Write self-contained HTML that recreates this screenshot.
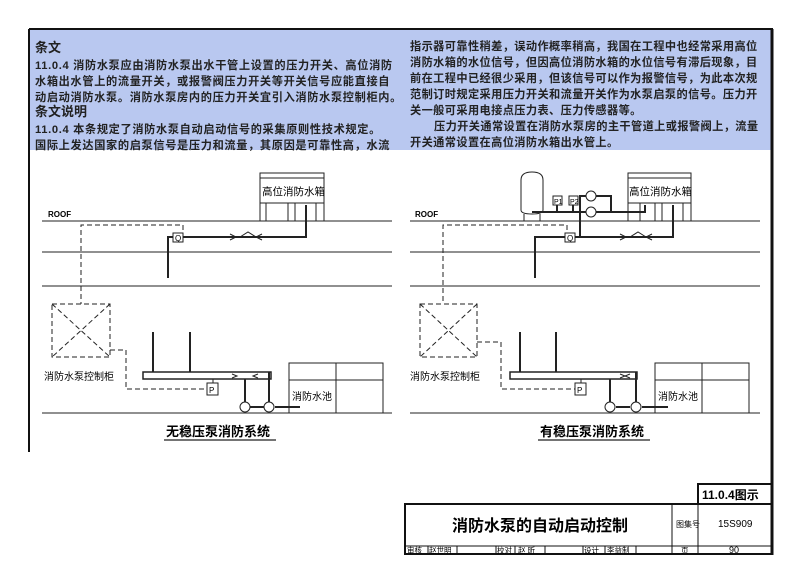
<!DOCTYPE html>
<html><head><meta charset="utf-8"><style>
body{margin:0;background:#fff;width:800px;height:579px;overflow:hidden}
svg{position:absolute;left:0;top:0}
text{font-family:"Liberation Sans","Noto Sans CJK SC",sans-serif}
.t{font-family:"Liberation Sans","Noto Sans CJK SC",sans-serif;font-size:11.2px;font-weight:bold;fill:#222}
.l{letter-spacing:0.65px}
.r{letter-spacing:0.4px}
</style></head><body>
<svg width="800" height="579" viewBox="0 0 800 579">
<rect x="0" y="0" width="800" height="579" fill="#fff"/>
<rect x="29" y="30" width="743" height="120" fill="#b9c8f0"/>
<line x1="29" y1="29" x2="773" y2="29" stroke="#111" stroke-width="2"/>
<line x1="29" y1="29" x2="29" y2="452" stroke="#111" stroke-width="2"/>
<line x1="772" y1="29" x2="772" y2="555" stroke="#111" stroke-width="3"/>
<g class="t">
<text x="35" y="52" style="font-size:13px">条文</text>
<text class="l" x="35" y="69">11.0.4 消防水泵应由消防水泵出水干管上设置的压力开关、高位消防</text>
<text class="l" x="35" y="85">水箱出水管上的流量开关，或报警阀压力开关等开关信号应能直接自</text>
<text class="l" x="35" y="101">动启动消防水泵。消防水泵房内的压力开关宜引入消防水泵控制柜内。</text>
<text x="35" y="116" style="font-size:13px">条文说明</text>
<text class="l" x="35" y="133">11.0.4 本条规定了消防水泵自动启动信号的采集原则性技术规定。</text>
<text class="l" x="35" y="149">国际上发达国家的启泵信号是压力和流量，其原因是可靠性高，水流</text>
<text class="r" x="410" y="50">指示器可靠性稍差，误动作概率稍高，我国在工程中也经常采用高位</text>
<text class="r" x="410" y="66">消防水箱的水位信号，但因高位消防水箱的水位信号有滞后现象，目</text>
<text class="r" x="410" y="82">前在工程中已经很少采用，但该信号可以作为报警信号，为此本次规</text>
<text class="r" x="410" y="98">范制订时规定采用压力开关和流量开关作为水泵启泵的信号。压力开</text>
<text class="r" x="410" y="114">关一般可采用电接点压力表、压力传感器等。</text>
<text class="r" x="434" y="130">压力开关通常设置在消防水泵房的主干管道上或报警阀上，流量</text>
<text class="r" x="410" y="146">开关通常设置在高位消防水箱出水管上。</text>
</g>

<!-- LEFT diagram -->
<g stroke="#222" fill="none" stroke-width="1">
<line x1="42" y1="221" x2="392" y2="221"/><line x1="42" y1="252" x2="392" y2="252"/>
<line x1="42" y1="286" x2="392" y2="286"/><line x1="42" y1="413" x2="392" y2="413"/>
<rect x="260" y="173" width="64" height="48"/><line x1="260" y1="178" x2="324" y2="178"/>
<line x1="260" y1="203" x2="324" y2="203"/><line x1="266" y1="203" x2="266" y2="221"/>
<line x1="288" y1="203" x2="288" y2="221"/><line x1="295" y1="203" x2="295" y2="221"/><line x1="316" y1="203" x2="316" y2="221"/>
<rect x="173" y="233" width="10" height="9"/>
<g stroke-width="2"><polyline points="183,237 306,237 306,205"/><polyline points="173,237 168,237 168,278"/>
<line x1="153" y1="332" x2="153" y2="372"/><line x1="190" y1="332" x2="190" y2="372"/>
<rect x="143" y="372" width="128" height="7" stroke-width="1.5"/>
<line x1="245" y1="379" x2="245" y2="402"/><line x1="269" y1="372" x2="269" y2="402"/>
<line x1="250" y1="407" x2="264" y2="407"/><line x1="275" y1="407" x2="300" y2="407"/></g>
<path d="M230,234 l6,3 l-6,3 M262,234 l-6,3 l6,3 M240,237 l8,-5 l8,5"/>
<line x1="213" y1="379" x2="213" y2="383"/><rect x="207" y="383" width="11" height="12"/>
<path d="M232,374 l5,2 l-5,2 M258,374 l-5,2 l5,2"/>
<circle cx="245" cy="407" r="5"/><circle cx="269" cy="407" r="5"/>
<g stroke-dasharray="5,3"><polyline points="183,230 183,225 81,225 81,304"/>
<rect x="52" y="304" width="58" height="53"/><line x1="52" y1="304" x2="110" y2="357"/><line x1="110" y1="304" x2="52" y2="357"/>
<polyline points="110,350 126,350 126,389 207,389"/></g>
<rect x="289" y="363" width="94" height="50"/><line x1="336" y1="363" x2="336" y2="413"/><line x1="289" y1="380" x2="383" y2="380"/>
</g>
<text x="48" y="217" style="font-size:8px;font-weight:bold">ROOF</text>
<text x="262" y="195" style="font-size:10.5px">高位消防水箱</text>
<text x="175" y="241" style="font-size:8px">Q</text>
<text x="209" y="393" style="font-size:8px">P</text>
<text x="44" y="380" style="font-size:10px">消防水泵控制柜</text>
<text x="292" y="400" style="font-size:10px">消防水池</text>
<text x="166" y="436" style="font-size:13px;font-weight:bold">无稳压泵消防系统</text>
<line x1="164" y1="440" x2="276" y2="440" stroke="#222" stroke-width="1.3"/>

<!-- RIGHT diagram -->
<g stroke="#222" fill="none" stroke-width="1">
<line x1="410" y1="221" x2="760" y2="221"/><line x1="410" y1="252" x2="760" y2="252"/>
<line x1="410" y1="286" x2="760" y2="286"/><line x1="410" y1="413" x2="760" y2="413"/>
<rect x="628" y="173" width="63" height="48"/><line x1="628" y1="178" x2="691" y2="178"/>
<line x1="628" y1="203" x2="691" y2="203"/><line x1="640" y1="203" x2="640" y2="221"/>
<line x1="655" y1="203" x2="655" y2="221"/><line x1="662" y1="203" x2="662" y2="221"/><line x1="683" y1="203" x2="683" y2="221"/>
<path d="M521,180 Q521,172 532,172 Q543,172 543,180 L543,210 Q543,214 532,214 Q521,214 521,210 Z"/>
<line x1="524" y1="214" x2="524" y2="221"/><line x1="540" y1="214" x2="540" y2="221"/>
<rect x="553" y="196" width="9" height="9"/><rect x="569" y="196" width="9" height="9"/>
<circle cx="591" cy="196" r="5"/><circle cx="591" cy="212" r="5"/>
<rect x="565" y="233" width="10" height="9"/>
<g stroke-width="2"><polyline points="532,212 586,212"/><line x1="557" y1="205" x2="557" y2="212"/><line x1="573" y1="205" x2="573" y2="212"/>
<polyline points="580,237 580,196 586,196"/><polyline points="596,196 611,196 611,212 596,212"/><polyline points="596,212 645,212 645,205"/>
<polyline points="575,237 673,237 673,205"/><polyline points="565,237 535,237 535,278"/>
<line x1="520" y1="332" x2="520" y2="372"/><line x1="556" y1="332" x2="556" y2="372"/>
<rect x="510" y="372" width="127" height="7" stroke-width="1.5"/>
<line x1="610" y1="379" x2="610" y2="402"/><line x1="636" y1="372" x2="636" y2="402"/>
<line x1="616" y1="407" x2="630" y2="407"/><line x1="642" y1="407" x2="668" y2="407"/></g>
<path d="M620,234 l6,3 l-6,3 M652,234 l-6,3 l6,3 M630,237 l8,-5 l8,5"/>
<line x1="581" y1="379" x2="581" y2="383"/><rect x="575" y="383" width="11" height="12"/>
<path d="M620,374 l5,2 l-5,2 M630,374 l-5,2 l5,2"/>
<circle cx="610" cy="407" r="5"/><circle cx="636" cy="407" r="5"/>
<g stroke-dasharray="5,3"><polyline points="567,230 567,225 443,225 443,304"/>
<rect x="420" y="304" width="57" height="53"/><line x1="420" y1="304" x2="477" y2="357"/><line x1="477" y1="304" x2="420" y2="357"/>
<polyline points="477,342 501,342 501,389 575,389"/></g>
<rect x="655" y="363" width="94" height="50"/><line x1="702" y1="363" x2="702" y2="413"/><line x1="655" y1="380" x2="749" y2="380"/>
</g>
<text x="415" y="217" style="font-size:8px;font-weight:bold">ROOF</text>
<text x="629" y="195" style="font-size:10.5px">高位消防水箱</text>
<text x="554" y="204" style="font-size:7px">P1</text><text x="570" y="204" style="font-size:7px">P2</text>
<text x="567" y="241" style="font-size:8px">Q</text>
<text x="577" y="393" style="font-size:8px">P</text>
<text x="410" y="380" style="font-size:10px">消防水泵控制柜</text>
<text x="658" y="400" style="font-size:10px">消防水池</text>
<text x="540" y="436" style="font-size:13px;font-weight:bold">有稳压泵消防系统</text>
<line x1="538" y1="440" x2="650" y2="440" stroke="#222" stroke-width="1.3"/>

<!-- title block -->
<g stroke="#111" fill="none">
<rect x="698" y="484" width="74" height="20" stroke-width="2"/>
<rect x="405" y="504" width="367" height="50" stroke-width="2"/>
<line x1="405" y1="546" x2="772" y2="546"/>
<line x1="672" y1="504" x2="672" y2="554"/><line x1="698" y1="504" x2="698" y2="554"/>
<line x1="428" y1="546" x2="428" y2="554"/><line x1="457" y1="546" x2="457" y2="554"/><line x1="496" y1="546" x2="496" y2="554"/>
<line x1="515" y1="546" x2="515" y2="554"/><line x1="545" y1="546" x2="545" y2="554"/><line x1="583" y1="546" x2="583" y2="554"/>
<line x1="605" y1="546" x2="605" y2="554"/><line x1="636" y1="546" x2="636" y2="554"/>
</g>
<text x="702" y="499" style="font-size:12px;font-weight:bold">11.0.4图示</text>
<text x="452" y="531" style="font-size:16px;font-weight:bold">消防水泵的自动启动控制</text>
<text x="676" y="527" style="font-size:8px">图集号</text>
<text x="718" y="527" style="font-size:10px">15S909</text>
<g style="font-size:7.5px"><text x="407" y="553">审核</text><text x="429" y="553">赵世明</text><text x="497" y="553">校对</text><text x="518" y="553">赵 昕</text><text x="584" y="553">设计</text><text x="607" y="553">李益制</text><text x="681" y="553">页</text></g>
<text x="729" y="553" style="font-size:9px">90</text>
</svg>
</body></html>
